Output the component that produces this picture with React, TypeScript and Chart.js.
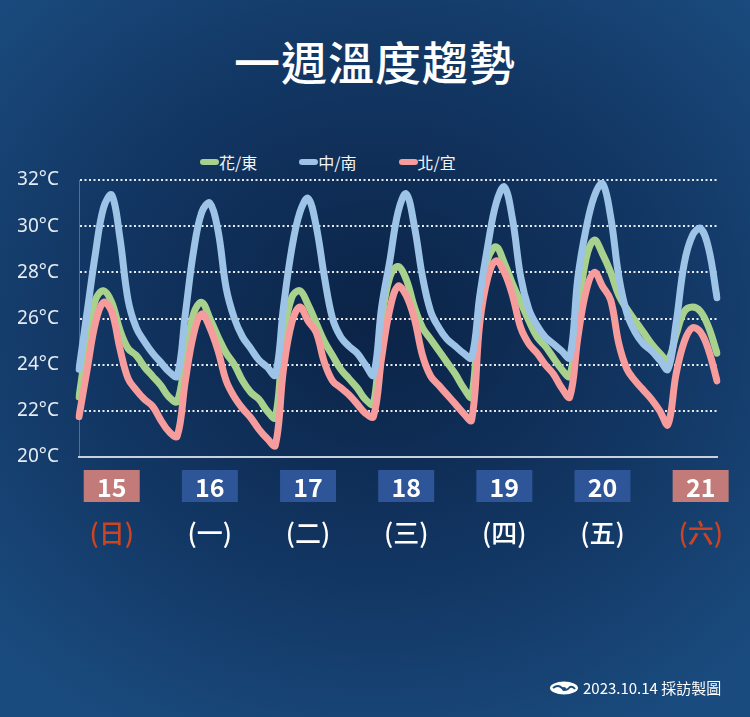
import { useEffect, useRef } from "react";
import { Chart } from "chart.js/auto";
import type { ChartConfiguration, Plugin } from "chart.js";

// 2-hourly readings, 15日 06:00 → 21日 18:00
const days = ["15", "16", "17", "18", "19", "20", "21"];
const weekdays = ["(日)", "(一)", "(二)", "(三)", "(四)", "(五)", "(六)"];
const weekend = [true, false, false, false, false, false, true];
const dayTickIndex = [4, 16, 28, 40, 52, 64, 76]; // 14:00 of each day

const hours: string[] = [];
for (let i = 0; i < 79; i++) {
  const h = 6 + i * 2;
  hours.push(`${days[Math.floor(h / 24)]}日 ${String(h % 24).padStart(2, "0")}時`);
}

const east = [
  22.6, 25.0, 26.8, 27.2, 26.7, 25.5, 24.7, 24.4, 23.9, 23.5, 23.1, 22.6, 22.4,
  24.3, 26.2, 26.7, 26.0, 25.2, 24.5, 24.0, 23.3, 22.8, 22.5, 22.0, 21.7,
  25.2, 26.9, 27.2, 26.6, 25.8, 25.0, 24.4, 23.8, 23.4, 23.0, 22.5, 22.3,
  25.9, 27.8, 28.25, 27.7, 26.5, 25.6, 25.1, 24.6, 24.1, 23.6, 23.0, 22.6,
  26.8, 28.6, 29.1, 28.4, 27.5, 26.7, 25.9, 25.2, 24.8, 24.3, 23.8, 23.5,
  26.2, 28.6, 29.4, 28.8, 28.0, 27.0, 26.4, 25.9, 25.4, 24.9, 24.5, 24.2,
  25.3, 26.3, 26.5, 26.3, 25.6, 24.5,
];

const south = [
  23.8, 26.3, 28.8, 30.8, 31.35, 29.5, 26.8, 25.6, 25.0, 24.5, 24.1, 23.7, 23.5,
  26.2, 28.9, 30.6, 31.0, 29.8, 27.3, 26.0, 25.2, 24.7, 24.2, 23.9, 23.55,
  26.5, 29.0, 30.6, 31.2, 30.0, 27.8, 26.0, 25.2, 24.8, 24.5, 24.0, 23.55,
  26.5, 28.5, 30.6, 31.4, 30.0, 27.8, 26.3, 25.6, 25.1, 24.8, 24.5, 24.3,
  27.0, 29.2, 31.0, 31.7, 30.3, 27.8, 26.4, 25.7, 25.2, 24.9, 24.6, 24.3,
  27.8, 29.9, 31.3, 31.85, 30.4, 27.8, 26.2, 25.4, 24.9, 24.6, 24.2, 23.8,
  25.8, 28.4, 29.6, 29.9, 29.0, 26.9,
];

const north = [
  21.75, 23.8, 25.8, 26.7, 26.3, 24.7, 23.4, 22.9, 22.5, 22.2, 21.6, 21.1, 20.9,
  23.3, 25.3, 26.2, 25.6, 24.6, 23.3, 22.6, 22.1, 21.7, 21.2, 20.8, 20.5,
  23.8, 25.8, 26.5, 25.9, 25.4, 24.1, 23.3, 23.0, 22.7, 22.3, 21.9, 21.75,
  24.3, 26.4, 27.4, 27.0, 26.0, 24.4, 23.5, 23.1, 22.7, 22.3, 21.9, 21.6,
  25.8, 27.8, 28.5, 28.0, 27.0, 25.6, 24.9, 24.5, 24.0, 23.6, 23.0, 22.6,
  25.2, 27.2, 28.0, 27.4, 26.8, 24.9, 23.8, 23.3, 22.9, 22.5, 22.0, 21.4,
  23.6, 25.0, 25.6, 25.4, 24.6, 23.3,
];

const series = [
  { label: "花/東", data: east, color: "#a9d18e", order: 2 },
  { label: "中/南", data: south, color: "#9dc3e6", order: 0 },
  { label: "北/宜", data: north, color: "#f79c9c", order: 1 },
];

const CJK = '"Noto Sans CJK TC", "Noto Sans", sans-serif';

const dayBoxes: Plugin<"line"> = {
  id: "dayBoxes",
  afterDraw(chart) {
    const { ctx } = chart;
    const x = chart.scales.x;
    ctx.save();
    ctx.textAlign = "center";
    ctx.textBaseline = "middle";
    dayTickIndex.forEach((idx, i) => {
      const cx = x.getPixelForValue(idx);
      ctx.fillStyle = weekend[i] ? "#c27b78" : "#2d5597";
      ctx.fillRect(cx - 28, 470, 56, 32);
      ctx.fillStyle = "#ffffff";
      ctx.font = `bold 25px ${CJK}`;
      ctx.fillText(days[i], cx, 487);
      ctx.fillStyle = weekend[i] ? "#cc4420" : "#ffffff";
      ctx.font = `500 26px ${CJK}`;
      ctx.fillText(weekdays[i], cx, 533);
    });
    ctx.restore();
  },
};

export default function App() {
  const canvasRef = useRef<HTMLCanvasElement>(null);
  const chartInstance = useRef<Chart | null>(null);

  useEffect(() => {
    document.body.style.margin = "0";
    if (!canvasRef.current) return;
    const ctx = canvasRef.current.getContext("2d");
    if (!ctx) return;

    const config: ChartConfiguration<"line"> = {
      type: "line",
      data: {
        labels: hours,
        datasets: series.map((s) => ({
          label: s.label,
          data: s.data,
          borderColor: s.color,
          backgroundColor: s.color,
          borderWidth: 7,
          pointRadius: 0,
          tension: 0.38,
          borderCapStyle: "round",
          borderJoinStyle: "round",
          order: s.order,
        })),
      },
      options: {
        responsive: true,
        maintainAspectRatio: false,
        animation: false,
        layout: { padding: { left: 18, right: 33, top: 180, bottom: 260 } },
        scales: {
          x: {
            afterFit: (scale) => {
              scale.height = 0;
            },
            grid: { display: false, drawTicks: false },
            ticks: { display: false },
            border: { display: true, color: "#c8d2de", width: 2 },
          },
          y: {
            min: 20,
            max: 32,
            afterFit: (scale) => {
              scale.width = 61;
            },
            ticks: {
              stepSize: 2,
              padding: 20,
              color: "#e6ecf3",
              font: { family: '"Noto Sans", sans-serif', size: 19 },
              callback: (v) => `${v}°C`,
            },
            grid: {
              color: "rgba(255,255,255,0.9)",
              lineWidth: 2,
              drawTicks: false,
            },
            border: {
              display: true,
              color: "rgba(200,210,225,0.35)",
              width: 1,
              dash: [2, 2.5],
            },
          },
        },
        plugins: {
          legend: { display: false },
          tooltip: { enabled: false },
        },
      },
      plugins: [dayBoxes],
    };

    chartInstance.current = new Chart(ctx, config);

    return () => {
      if (chartInstance.current) {
        chartInstance.current.destroy();
      }
    };
  }, []);

  return (
    <div
      style={{
        position: "relative",
        width: 750,
        height: 717,
        overflow: "hidden",
        background:
          "radial-gradient(ellipse 70% 65% at 50% 45%, #0b2346 0%, #123663 55%, #1a4b7e 100%)",
        fontFamily: CJK,
      }}
    >
      <div
        style={{
          position: "absolute",
          top: 30,
          left: 0,
          width: 750,
          textAlign: "center",
          color: "#ffffff",
          fontSize: 46,
          fontWeight: 500,
          lineHeight: "60px",
          letterSpacing: 1,
        }}
      >
        一週溫度趨勢
      </div>

      <div
        style={{
          position: "absolute",
          top: 151,
          left: 200,
          display: "flex",
          gap: 42,
          alignItems: "center",
          height: 22,
        }}
      >
        {series.map((s) => (
          <div key={s.label} style={{ display: "flex", alignItems: "center" }}>
            <span
              style={{
                display: "inline-block",
                width: 19,
                height: 6,
                borderRadius: 3,
                background: s.color,
              }}
            />
            <span style={{ color: "#f2f5f9", fontSize: 16, lineHeight: "22px" }}>{s.label}</span>
          </div>
        ))}
      </div>

      <canvas
        ref={canvasRef}
        style={{ position: "absolute", left: 0, top: 0, width: 750, height: 717 }}
      />

      <div
        style={{
          position: "absolute",
          top: 677,
          left: 550,
          display: "flex",
          alignItems: "center",
          gap: 5,
          color: "#ffffff",
          fontSize: 15,
          lineHeight: "22px",
        }}
      >
        <svg width="28" height="14" viewBox="0 0 28 14">
          <ellipse cx="14" cy="7" rx="14" ry="6.5" fill="#ffffff" />
          <path
            d="M3 7 Q8 3 12 7 T20 6 Q23 5 25 8"
            stroke="#1a4b7e"
            strokeWidth="2"
            fill="none"
          />
          <circle cx="14" cy="8" r="2" fill="#1a4b7e" />
        </svg>
        <span>2023.10.14 採訪製圖</span>
      </div>
    </div>
  );
}
